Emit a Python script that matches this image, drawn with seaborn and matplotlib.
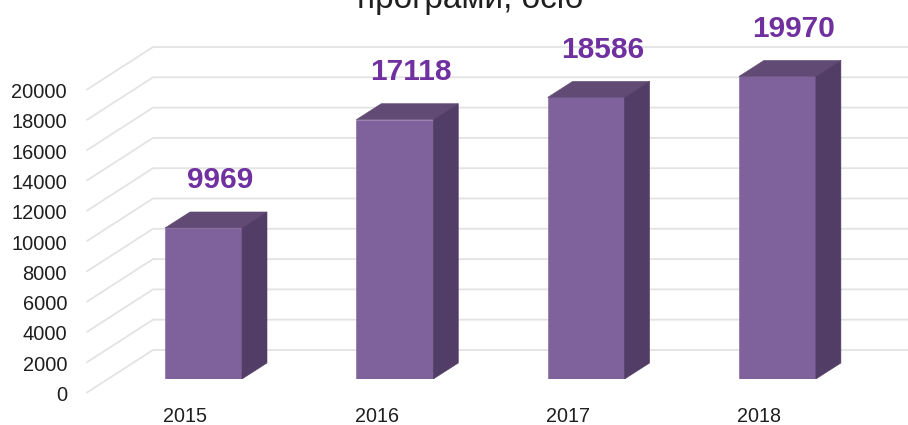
import matplotlib
matplotlib.use("Agg")
import matplotlib.pyplot as plt
from matplotlib.transforms import ScaledTranslation
import pandas as pd
import seaborn as sns

years = ["2015", "2016", "2017", "2018"]
values = [9969, 17118, 18586, 19970]
wall_ticks = list(range(0, 20001, 2000))
title_text = "програми, осіб"

W, H = 908, 425
FRONT, TOP, SIDE = "#7F619C", "#614B75", "#513D65"
GRID, LABEL = "#E3E3E3", "#7030A0"
TEXT = "#1F1F1F"

sns.set_theme(style="white")
plt.rcParams["font.family"] = ["Liberation Sans", "DejaVu Sans"]

fig = plt.figure(figsize=(W / 100, H / 100), dpi=100, facecolor="white")

# Back wall with the value ticks and the grid lines
wall = fig.add_axes([87 / W, 1 - 392.5 / H, (W - 87) / W, 303 / H])
wall.set_xlim(87, W)
wall.set_ylim(0, 20000)
wall_dy = 42.5 * 20000 / 303
for v in wall_ticks:
    wall.plot([87, 153, W], [v, v + wall_dy, v + wall_dy], color=GRID, lw=1.3,
              clip_on=False, solid_joinstyle="miter")
wall.set_xticks([])
wall.set_yticks(wall_ticks)
wall.set_yticklabels([str(v) for v in wall_ticks], fontsize=14.4, color=TEXT)
wall.tick_params(axis="y", length=0, pad=20 * 0.72)
yshift = ScaledTranslation(0, -1 / 100, fig.dpi_scale_trans)
for lab in wall.get_yticklabels():
    lab.set_transform(lab.get_transform() + yshift)
sns.despine(ax=wall, left=True, bottom=True)
wall.patch.set_alpha(0)

# Bars in the front plane
PX_PER_UNIT = 0.01515
SPACING = 191.3
C0 = 203.5
ax = fig.add_axes([0, 1 - 379 / H, 1, 379 / H])
ax.patch.set_alpha(0)
df = pd.DataFrame({"year": years, "value": values})
sns.barplot(data=df, x="year", y="value", color=FRONT, saturation=1,
            width=77 / SPACING, ax=ax, zorder=3)
ax.set_xlim(-C0 / SPACING, (W - C0) / SPACING)
ax.set_ylim(0, 379 / PX_PER_UNIT)
ax.set_xlabel("")
ax.set_ylabel("")
ax.set_yticks([])
sns.despine(ax=ax, left=True, bottom=True)

dx = 25 / SPACING
dy = 16 / PX_PER_UNIT
for patch, val in zip(ax.patches, values):
    x0 = patch.get_x()
    x1 = x0 + patch.get_width()
    h = patch.get_height()
    patch.set_edgecolor(FRONT)
    patch.set_linewidth(0.4)
    ax.fill([x0, x1, x1 + dx, x0 + dx], [h, h, h + dy, h + dy], color=TOP, lw=0.4, zorder=3)
    ax.fill([x1, x1 + dx, x1 + dx, x1], [0, dy, h + dy, h], color=SIDE, lw=0.4, zorder=3)
    ax.annotate(str(val), xy=((x0 + x1) / 2, h), xytext=(16.5 * 0.72, 47.5 * 0.72),
                textcoords="offset points", ha="center", va="center",
                fontsize=21.5, fontweight="bold", color=LABEL, zorder=5,
                annotation_clip=False)

ax.tick_params(axis="x", length=0, pad=27.5 * 0.72, labelsize=14.2, labelcolor=TEXT)
shift = ScaledTranslation(-18 / 100, 0, fig.dpi_scale_trans)
for lab in ax.get_xticklabels():
    lab.set_transform(lab.get_transform() + shift)

fig.text(470 / W, 1 - 8 / H, title_text, ha="center", va="baseline",
         fontsize=24, color=TEXT)

fig.savefig("out.png", dpi=100, facecolor="white")
